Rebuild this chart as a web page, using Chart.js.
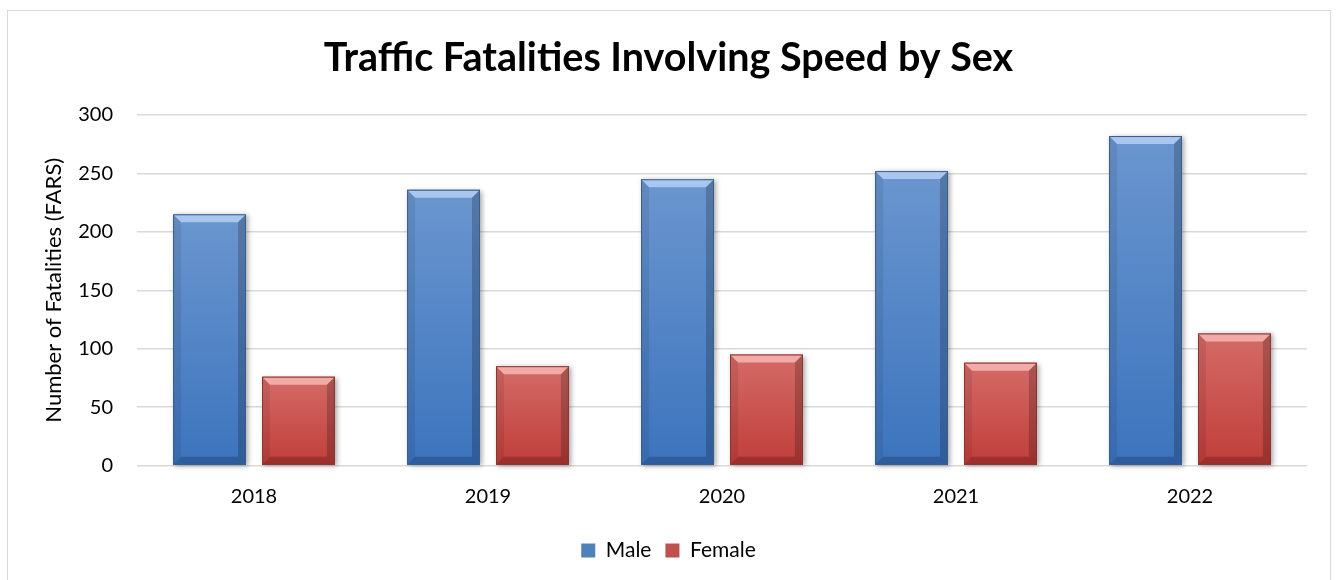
<!DOCTYPE html>
<html>
<head>
<meta charset="utf-8">
<title>Traffic Fatalities Involving Speed by Sex</title>
<script src="https://cdn.jsdelivr.net/npm/chart.js@4.4.1/dist/chart.umd.min.js"></script>
<style>
  html, body { margin: 0; padding: 0; background: #fff; }
  #wrap { position: relative; width: 1337px; height: 580px; overflow: hidden; }
  #cadre { position: absolute; left: 7px; top: 10px; width: 1322px; height: 620px; border: 1px solid #d9d9d9; pointer-events: none; }
  canvas { position: absolute; left: 0; top: 0; }
</style>
</head>
<body>
<div id="wrap">
  <canvas id="graph" width="1337" height="580"></canvas>
  <div id="cadre"></div>
</div>
<script>
// Données : décès par année, hommes / femmes
const annees = ['2018', '2019', '2020', '2021', '2022'];
const hommes = [215, 236, 245, 252, 282];
const femmes = [76, 85, 95, 88, 113];
const graduations = [0, 50, 100, 150, 200, 250, 300];

// Teintes des barres (face en dégradé + facettes du biseau)
const teintes = [
  { plein: '#4f81bd', haut: '#6b96cf', bas: '#3c74bd', clair: 'rgba(190,215,250,0.75)', sombre: 'rgba(20,50,100,0.35)', bord: '#3a5e8c' },
  { plein: '#c0504d', haut: '#d46b67', bas: '#c03e3a', clair: 'rgba(255,200,195,0.7)', sombre: 'rgba(90,20,20,0.35)', bord: '#8a3532' }
];

const police = 'Lato, "Open Sans", sans-serif';

// petite fonction pour remplir un polygone
function facette(ctx, pts, couleur) {
  ctx.beginPath();
  ctx.moveTo(pts[0][0], pts[0][1]);
  for (let k = 1; k < pts.length; k++) ctx.lineTo(pts[k][0], pts[k][1]);
  ctx.closePath();
  ctx.fillStyle = couleur;
  ctx.fill();
}

// Plugin : repeint chaque barre avec ombre, dégradé et biseau
const biseau = {
  id: 'biseau',
  afterDatasetsDraw(chart) {
    const ctx = chart.ctx;
    chart.data.datasets.forEach((ds, i) => {
      const meta = chart.getDatasetMeta(i);
      const t = teintes[i];
      meta.data.forEach(barre => {
        const { x, y, base, width } = barre.getProps(['x', 'y', 'base', 'width'], true);
        const g = x - width / 2, d = x + width / 2, h = y, b = base;
        const e = Math.min(8, (b - h) / 2);

        ctx.save();
        ctx.shadowColor = 'rgba(0,0,0,0.35)';
        ctx.shadowBlur = 5;
        ctx.shadowOffsetX = 2;
        ctx.shadowOffsetY = 1;
        const grad = ctx.createLinearGradient(0, h, 0, b);
        grad.addColorStop(0, t.haut);
        grad.addColorStop(1, t.bas);
        ctx.fillStyle = grad;
        ctx.fillRect(g, h, width, b - h);
        ctx.restore();

        ctx.save();
        facette(ctx, [[g, h], [d, h], [d - e, h + e], [g + e, h + e]], t.clair);
        facette(ctx, [[g, b], [d, b], [d - e, b - e], [g + e, b - e]], t.sombre);
        facette(ctx, [[g, h], [g + e, h + e], [g + e, b - e], [g, b]], 'rgba(0,0,0,0.08)');
        facette(ctx, [[d, h], [d - e, h + e], [d - e, b - e], [d, b]], 'rgba(0,0,0,0.2)');
        ctx.strokeStyle = t.bord;
        ctx.lineWidth = 1;
        ctx.strokeRect(g + 0.5, h + 0.5, width - 1, b - h - 1);
        ctx.restore();
      });
    });
  }
};

const ctx = document.getElementById('graph');
new Chart(ctx, {
  type: 'bar',
  data: {
    labels: annees,
    datasets: [
      { label: 'Male', data: hommes, backgroundColor: teintes[0].plein, borderWidth: 0, categoryPercentage: 0.76, barPercentage: 0.82 },
      { label: 'Female', data: femmes, backgroundColor: teintes[1].plein, borderWidth: 0, categoryPercentage: 0.76, barPercentage: 0.82 }
    ]
  },
  options: {
    responsive: false,
    animation: false,
    layout: { padding: { left: 0, right: 0, top: 0, bottom: 9 } },
    plugins: {
      title: {
        display: true,
        text: 'Traffic Fatalities Involving Speed by Sex',
        color: '#000',
        font: { family: police, size: 39.5, weight: 'bold' },
        padding: { top: 34.5, bottom: 33.1 }
      },
      legend: {
        position: 'bottom',
        labels: {
          color: '#000',
          font: { family: police, size: 21 },
          boxWidth: 14,
          boxHeight: 14,
          padding: 14
        }
      },
      tooltip: { enabled: false }
    },
    scales: {
      x: {
        grid: { display: false },
        border: { display: false },
        ticks: { color: '#000', font: { family: police, size: 20 }, padding: 11 },
        afterFit: s => { s.height = 60.5; }
      },
      y: {
        min: 0,
        max: 300,
        afterBuildTicks: s => { s.ticks = graduations.map(v => ({ value: v })); },
        grid: { color: '#d9d9d9', lineWidth: 1.5, drawTicks: false },
        border: { display: false },
        ticks: { color: '#000', font: { family: police, size: 20 }, padding: 24 },
        title: {
          display: true,
          text: 'Number of Fatalities (FARS)',
          color: '#000',
          font: { family: police, size: 22 },
          padding: { top: 41, bottom: 0 }
        },
        afterFit: s => { s.width = 137; }
      },
      // axe vide à droite : simple marge, le titre reste centré sur la page
      marge: {
        position: 'right',
        grid: { display: false },
        border: { display: false },
        ticks: { display: false },
        afterFit: s => { s.width = 30; }
      }
    }
  },
  plugins: [biseau]
});
</script>
</body>
</html>
